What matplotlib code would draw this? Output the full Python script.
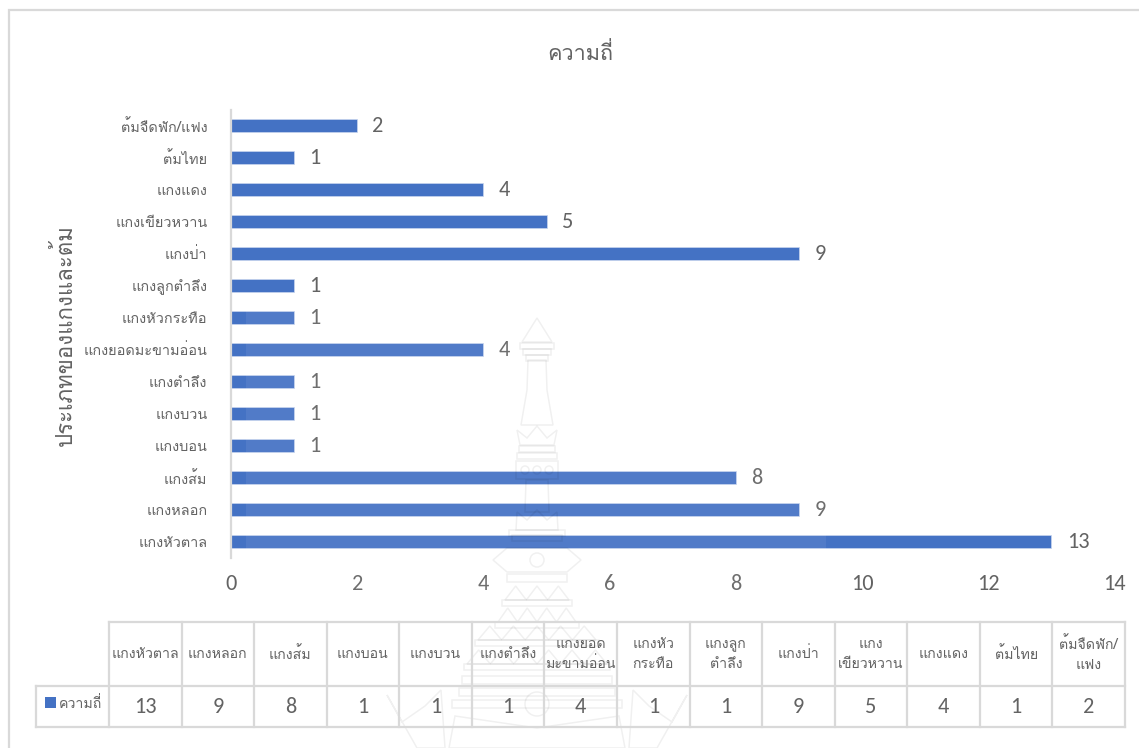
import matplotlib
matplotlib.use('Agg')
import matplotlib.pyplot as plt
from matplotlib.patches import Polygon, Rectangle, Circle

plt.rcParams['font.family'] = ['Loma', 'Noto Sans Thai', 'DejaVu Sans']
NUM_FONT = ['Carlito', 'Open Sans', 'DejaVu Sans']
TEXT_COL = '#636363'
GRID_COL = '#d9d9d9'
BAR_COL = '#4472c4'

title = 'ความถี่'
ylabel = 'ประเภทของแกงและต้ม'
categories = ['แกงหัวตาล', 'แกงหลอก', 'แกงส้ม', 'แกงบอน', 'แกงบวน', 'แกงตำลึง',
              'แกงยอดมะขามอ่อน', 'แกงหัวกระทือ', 'แกงลูกตำลึง', 'แกงป่า',
              'แกงเขียวหวาน', 'แกงแดง', 'ต้มไทย', 'ต้มจืดฟัก/แฟง']
table_heads = ['แกงหัวตาล', 'แกงหลอก', 'แกงส้ม', 'แกงบอน', 'แกงบวน', 'แกงตำลึง',
               'แกงยอด\nมะขามอ่อน', 'แกงหัว\nกระทือ', 'แกงลูก\nตำลึง', 'แกงป่า',
               'แกง\nเขียวหวาน', 'แกงแดง', 'ต้มไทย', 'ต้มจืดฟัก/\nแฟง']
values = [13, 9, 8, 1, 1, 1, 4, 1, 1, 9, 5, 4, 1, 2]
xticks = [0, 2, 4, 6, 8, 10, 12, 14]

W, H = 1139, 748
fig = plt.figure(figsize=(W / 100, H / 100), dpi=100)

# full-figure layer in pixels for the frame
bg = fig.add_axes([0, 0, 1, 1], zorder=0)
bg.set_xlim(0, W)
bg.set_ylim(H, 0)
bg.axis('off')
bg.plot([9, 9, W], [H, 10, 10], color=GRID_COL, lw=1.6, solid_joinstyle='miter')

# horizontal bars, one category per 32 px row
ax = fig.add_axes([231 / W, 1 - 557.5 / H, (1114.5 - 231) / W, 448 / H], zorder=2)
ax.patch.set_alpha(0)
pos = list(range(len(categories)))
bars = ax.barh(pos, values, height=0.38, color=BAR_COL, edgecolor='#c9d6ee', linewidth=0.5, zorder=2)
ax.set_xlim(0, 14)
ax.set_ylim(-0.5, len(categories) - 0.5)
ax.set_xticks(xticks)
ax.set_xticklabels(xticks, fontsize=16, color=TEXT_COL, family=NUM_FONT)
ax.set_yticks(pos)
ax.set_yticklabels(categories, fontsize=10.4, color=TEXT_COL)
ax.tick_params(axis='both', length=0)
ax.tick_params(axis='x', pad=12)
ax.tick_params(axis='y', pad=17)
for s in ['top', 'right', 'bottom']:
    ax.spines[s].set_visible(False)
ax.spines['left'].set_color(GRID_COL)
ax.spines['left'].set_linewidth(1.6)
ax.bar_label(bars, labels=[str(v) for v in values], padding=11, fontsize=16, color=TEXT_COL, family=NUM_FONT)

top = fig.add_axes([0, 0, 1, 1], zorder=3)
top.set_xlim(0, W)
top.set_ylim(H, 0)
top.axis('off')
top.patch.set_alpha(0)

# pale emblem printed over the page; it also lifts the bars a little
top.add_patch(Rectangle((246, 310), 580, 438, fc='white', ec='none', alpha=0.07, zorder=1))


def emblem(a):
    cx = 537
    kw = dict(fill=False, ec='black', alpha=0.06, lw=1.1, zorder=1)
    a.add_patch(Polygon([(cx - 15, 342), (cx, 318), (cx + 15, 342)], **kw))
    for y, w in [(346, 34), (352, 28), (358, 22)]:
        a.add_patch(Rectangle((cx - w / 2, y - 3), w, 6, **kw))
    a.add_patch(Polygon([(cx - 9, 360), (cx - 10, 390), (cx - 16, 425), (cx + 16, 425),
                         (cx + 10, 390), (cx + 9, 360)], **kw))
    a.add_patch(Polygon([(cx - 20, 430), (cx - 10, 438), (cx, 426), (cx + 10, 438), (cx + 20, 430),
                         (cx + 17, 445), (cx - 17, 445)], **kw))
    for y, w in [(449, 36), (456, 40)]:
        a.add_patch(Rectangle((cx - w / 2, y - 3), w, 6, **kw))
    a.add_patch(Rectangle((cx - 21, 461), 42, 18, **kw))
    for dx in (-12, 0, 12):
        a.add_patch(Circle((cx + dx, 470), 4, **kw))
    a.add_patch(Polygon([(cx - 11, 480), (cx - 12, 512), (cx + 12, 512), (cx + 11, 480)], **kw))
    a.add_patch(Polygon([(cx - 21, 530), (cx - 20, 512), (cx - 10, 520), (cx, 510), (cx + 10, 520),
                         (cx + 20, 512), (cx + 21, 530)], **kw))
    for y, w in [(533, 56), (538, 50)]:
        a.add_patch(Rectangle((cx - w / 2, y - 3), w, 6, **kw))
    # crest with its centre medallion
    a.add_patch(Polygon([(cx - 44, 560), (cx - 30, 548), (cx + 30, 548), (cx + 44, 560),
                         (cx + 30, 572), (cx - 30, 572)], **kw))
    a.add_patch(Circle((cx, 560), 7, **kw))
    a.add_patch(Rectangle((cx - 30, 574), 60, 8, **kw))
    # scalloped tiers
    for y, w, n in [(600, 64, 3), (622, 78, 4), (640, 118, 5), (664, 140, 6)]:
        step = w / n
        for i in range(n):
            x0 = cx - w / 2 + i * step
            a.add_patch(Polygon([(x0, y), (x0 + step / 2, y - 14), (x0 + step, y)], **kw))
        a.add_patch(Rectangle((cx - w / 2 - 3, y), w + 6, 6, **kw))
    for y, w in [(676, 150), (688, 156), (700, 170)]:
        a.add_patch(Rectangle((cx - w / 2, y), w, 8, **kw))
    a.add_patch(Circle((cx, 704), 12, **kw))
    # naga flourishes at the foot
    for s in (-1, 1):
        a.add_patch(Polygon([(cx + s * 150, 695), (cx + s * 135, 722), (cx + s * 112, 706), (cx + s * 96, 690),
                             (cx + s * 92, 748), (cx + s * 120, 748)], **kw))
    a.add_patch(Polygon([(cx - 82, 716), (cx, 728), (cx + 82, 716), (cx + 88, 748), (cx - 88, 748)], **kw))


emblem(top)

top.text(580, 54, title, fontsize=15.6, color=TEXT_COL, ha='center', va='center')
top.text(65, 335, ylabel, fontsize=16, color=TEXT_COL, ha='center', va='center', rotation=90)

# data table under the axis
col_w = (1125 - 109) / len(table_heads)
edges = [109 + i * col_w for i in range(len(table_heads) + 1)]
tbl_top, tbl_mid, tbl_bot = 622, 686, 727
tkw = dict(color=GRID_COL, lw=1.6, solid_capstyle='projecting', zorder=2)
top.plot([109, 1125], [tbl_top, tbl_top], **tkw)
top.plot([36, 1125], [tbl_mid, tbl_mid], **tkw)
top.plot([36, 1125], [tbl_bot, tbl_bot], **tkw)
top.plot([36, 36], [tbl_mid, tbl_bot], **tkw)
for x in edges:
    top.plot([x, x], [tbl_top, tbl_bot], **tkw)
for i, (head, val) in enumerate(zip(table_heads, values)):
    cx = (edges[i] + edges[i + 1]) / 2
    top.text(cx, (tbl_top + tbl_mid) / 2, head, fontsize=10.2, color=TEXT_COL, ha='center', va='center',
             linespacing=1.5, zorder=3)
    top.text(cx, (tbl_mid + tbl_bot) / 2 + 0.5, str(val), fontsize=16, color=TEXT_COL, ha='center', va='center',
             family=NUM_FONT, zorder=3)
top.add_patch(Rectangle((45, 697), 11, 11, fc=BAR_COL, ec='none', zorder=3))
top.text(59, 704, title, fontsize=10.2, color=TEXT_COL, ha='left', va='center', zorder=3)

fig.savefig('out.png', dpi=100)
